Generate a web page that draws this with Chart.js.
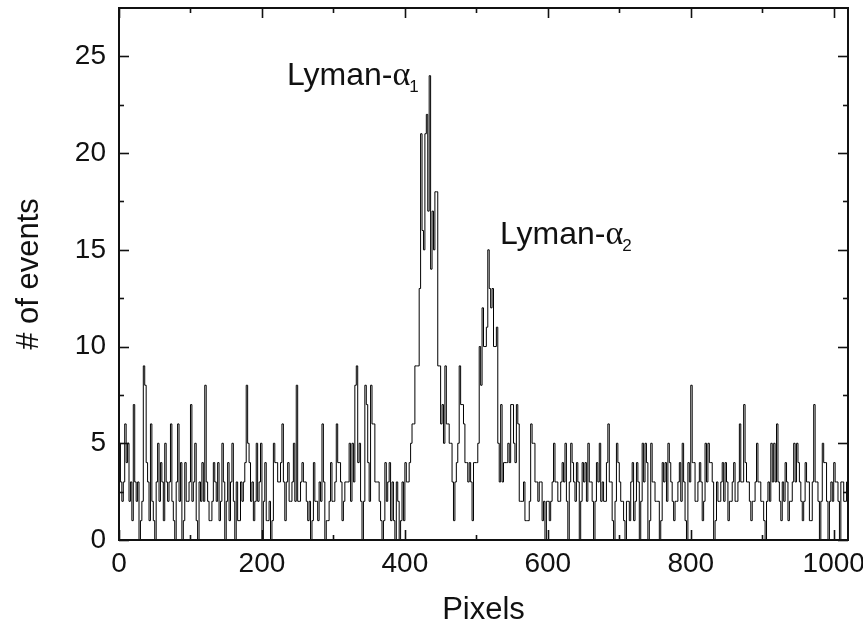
<!DOCTYPE html>
<html>
<head>
<meta charset="utf-8">
<script src="https://cdn.jsdelivr.net/npm/chart.js@4.4.1/dist/chart.umd.min.js"></script>
<style>
    html, body { margin: 0; padding: 0; background: #fff; }
    #wrap { width: 863px; height: 630px; }
</style>
</head>
<body>
<div id="wrap"><canvas id="spectrum" width="863" height="630"></canvas></div>
<script>
// ===== DATA (counts per 2-pixel bin) =====
const binWidth = 2;
const xMax = 1020;

const noiseLeft = [
    5,3, 2,3, 6,4, 5,2, 3,1, 7,3, 2,3, 0,1, 2,9, 8,4, 3,1, 6,2, 1,0, 3,5, 2,4, 3,1,
    5,3, 2,3, 6,2, 1,0, 3,6, 2,4, 0,1, 4,2, 2,3, 7,2, 3,5, 1,0, 3,2, 4,2, 8,3, 2,1,
    1,2, 4,3, 2,4, 1,2, 5,3, 0,2, 4,1, 3,5, 2,0, 3,1, 1,3, 2,3, 4,8, 5,4, 2,3, 1,2,
    5,2, 3,5, 0,2, 4,1, 1,2, 0,1, 5,4, 4,3, 3,4, 6,3, 1,3, 4,2, 2,3, 5,2, 8,2, 2,3,
    4,3, 3,2, 1,2, 0,1, 4,2, 2,1, 3,2, 6,3, 0,1, 1,2, 4,2, 2,3, 6,4, 4,3, 1,2, 3,3,
    3,5, 2,5, 3,8, 9,4, 5,2, 0,2, 8,7, 4,2, 8,6, 6,3, 3,3, 2,1, 0,1, 4,2, 3,4, 1,3
];
const peakAlpha1 = [
    1,0, 3,2, 0,1, 3,1, 4,3, 3,4, 5,6, 6,9, 9,9, 13,21, 16,15, 21,22, 17,24, 14,17, 15,18, 18,9,
    9,6, 7,5, 9,6, 6,5, 5,3, 1,3, 4,5, 9,7
];
const peakAlpha2 = [
    7,6, 4,4, 3,4, 3,1, 4,4, 4,5, 10,8, 12,10,
    10,11, 15,13, 12,13, 10,10, 11,5, 3,7, 3,4, 4,4, 5,4, 7,7, 5,4, 7,6, 2,2, 2,3, 1,1, 1,2
];
const noiseRight = [
    6,5, 5,3, 3,2, 3,3, 1,2, 0,2, 2,1, 2,3, 5,3, 3,2, 2,3, 4,3, 5,2, 0,3, 5,4, 3,2,
    4,3, 0,2, 4,3, 4,2, 5,3, 3,2, 0,2, 4,3, 5,2, 3,2, 2,4, 6,3, 3,1, 0,2, 5,4, 3,2,
    2,1, 0,2, 2,1, 3,4, 1,2, 4,3, 0,2, 5,3, 5,4, 0,1, 5,3, 3,2, 2,2, 0,1, 4,3, 4,2,
    5,4, 3,2, 1,2, 2,3, 4,2, 5,3, 1,0, 4,3, 8,4, 4,2, 2,3, 4,3, 1,2, 5,3, 5,4, 4,3,
    0,1, 3,2, 2,3, 4,2, 4,3, 1,2, 2,3, 4,2, 2,3, 6,3, 3,7, 4,3, 3,2, 1,2, 2,3, 5,3,
    3,2, 2,1, 0,2, 3,2, 5,3, 5,3, 6,3, 2,1, 3,2, 4,3, 1,2, 2,3, 5,3, 5,4, 3,2, 1,2,
    4,3, 3,1, 1,3, 7,3, 3,2, 0,2, 5,4, 4,2, 0,2, 3,2, 4,3, 3,2, 0,3, 3,2, 2,3
];

const xMajorTicks = [0, 200, 400, 600, 800, 1000];
const xMinorTicks = [100, 300, 500, 700, 900];
const yMajorTicks = [0, 5, 10, 15, 20, 25];
const yMinorTicks = [2.5, 7.5, 12.5, 17.5, 22.5];

const peakLabels = [
    { text: "Lyman-", greek: "\u03b1", sub: "1", x: 235, y: 23.5 },
    { text: "Lyman-", greek: "\u03b1", sub: "2", x: 533, y: 15.3 }
];

// ===== BUILD POINTS =====
const counts = [...noiseLeft, ...peakAlpha1, ...peakAlpha2, ...noiseRight];
const points = counts.map((c, i) => ({ x: i * binWidth, y: c }));
points.push({ x: xMax, y: counts[counts.length - 1] });

const FONT = "'Liberation Sans', Arial, Helvetica, sans-serif";
const INK = "#111111";

/* ===== FRAME + INWARD TICKS ===== */
const frameTicks = {
    id: "frameTicks",
    afterDatasetsDraw(chart) {
        const { ctx, chartArea: a, scales: { x, y } } = chart;
        ctx.save();
        ctx.strokeStyle = INK;
        ctx.lineWidth = 1.6;

        function seg(x1, y1, x2, y2) {
            ctx.beginPath();
            ctx.moveTo(x1, y1);
            ctx.lineTo(x2, y2);
            ctx.stroke();
        }

        const drawX = (vals, len) => vals.forEach(v => {
            const px = Math.round(x.getPixelForValue(v)) + 0.5;
            seg(px, a.bottom, px, a.bottom - len);
            seg(px, a.top, px, a.top + len);
        });
        const drawY = (vals, len) => vals.forEach(v => {
            const py = Math.round(y.getPixelForValue(v)) + 0.5;
            seg(a.left, py, a.left + len, py);
            seg(a.right, py, a.right - len, py);
        });

        drawX(xMajorTicks, 10);
        drawX(xMinorTicks, 5);
        drawY(yMajorTicks, 10);
        drawY(yMinorTicks, 5);

        ctx.lineWidth = 2;
        ctx.strokeRect(a.left, a.top, a.right - a.left, a.bottom - a.top);
        ctx.restore();
    },
    afterDraw(chart) {
        const { ctx, scales: { x, y } } = chart;
        ctx.save();
        ctx.fillStyle = INK;
        ctx.textBaseline = "alphabetic";
        ctx.textAlign = "left";
        peakLabels.forEach(l => {
            let px = x.getPixelForValue(l.x);
            const py = y.getPixelForValue(l.y);
            ctx.font = "32px " + FONT;
            ctx.fillText(l.text, px, py);
            px += ctx.measureText(l.text).width;
            ctx.font = "34px 'Liberation Serif', serif";
            ctx.fillText(l.greek, px, py);
            px += ctx.measureText(l.greek).width - 1;
            ctx.font = "17px " + FONT;
            ctx.fillText(l.sub, px, py + 7);
        });
        ctx.restore();
    }
};

const ctx = document.getElementById("spectrum").getContext("2d");

new Chart(ctx, {
    type: "line",
    data: {
        datasets: [{
            label: "events",
            data: points,
            stepped: true,
            borderColor: "#000000",
            borderWidth: 1,
            pointRadius: 0,
            fill: false
        }]
    },
    options: {
        responsive: false,
        animation: false,
        devicePixelRatio: 1,
        layout: { padding: { top: 8, right: 15, left: 0, bottom: 0 } },
        plugins: {
            legend: { display: false },
            tooltip: { enabled: false }
        },
        scales: {
            x: {
                type: "linear",
                min: 0,
                max: xMax,
                afterBuildTicks: s => { s.ticks = xMajorTicks.map(v => ({ value: v })); },
                afterFit: s => { s.height = 90; s.paddingLeft = 0; s.paddingRight = 0; },
                border: { display: false },
                grid: { display: false, drawTicks: false },
                ticks: {
                    autoSkip: false,
                    maxRotation: 0,
                    padding: 7,
                    color: INK,
                    font: { size: 28, family: FONT },
                    callback: v => String(v)
                },
                title: {
                    display: true,
                    text: "Pixels",
                    color: INK,
                    padding: { top: 0, bottom: 1 },
                    font: { size: 31, family: FONT }
                }
            },
            y: {
                min: 0,
                max: 27.5,
                afterBuildTicks: s => { s.ticks = yMajorTicks.map(v => ({ value: v })); },
                afterFit: s => { s.width = 119; s.paddingTop = 0; s.paddingBottom = 0; },
                border: { display: false },
                grid: { display: false, drawTicks: false },
                ticks: {
                    autoSkip: false,
                    padding: 13,
                    color: INK,
                    font: { size: 28, family: FONT },
                    callback: v => String(v)
                },
                title: {
                    display: true,
                    text: "# of events",
                    color: INK,
                    padding: { top: 11, bottom: 0 },
                    font: { size: 31, family: FONT }
                }
            }
        }
    },
    plugins: [frameTicks]
});
</script>
</body>
</html>
